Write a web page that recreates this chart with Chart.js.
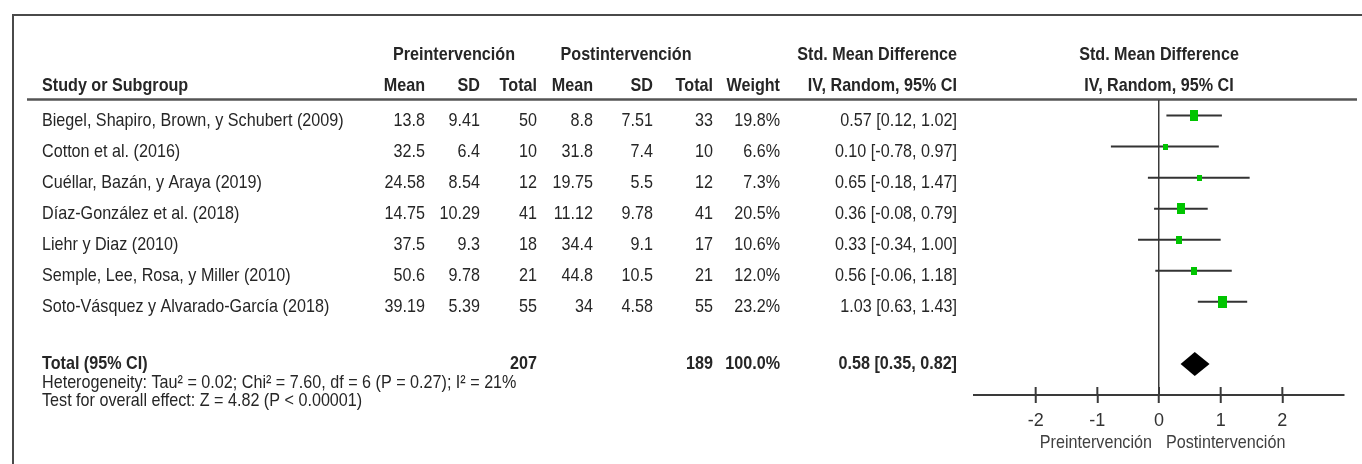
<!DOCTYPE html>
<html>
<head>
<meta charset="utf-8">
<script src="https://cdn.jsdelivr.net/npm/chart.js@4.4.1/dist/chart.umd.min.js"></script>
<style>
  html, body { margin: 0; padding: 0; background: #fff; overflow: hidden; }
  #wrap { position: relative; width: 1362px; height: 464px; }
</style>
</head>
<body>
<div id="wrap"><canvas id="forest" width="1362" height="464"></canvas></div>
<script>
// Study table
const studies = [
  'Biegel, Shapiro, Brown, y Schubert (2009)',
  'Cotton et al. (2016)',
  'Cuéllar, Bazán, y Araya (2019)',
  'Díaz-González et al. (2018)',
  'Liehr y Diaz (2010)',
  'Semple, Lee, Rosa, y Miller (2010)',
  'Soto-Vásquez y Alvarado-García (2018)'
];
const preMean   = [13.8, 32.5, 24.58, 14.75, 37.5, 50.6, 39.19];
const preSD     = [9.41, 6.4, 8.54, 10.29, 9.3, 9.78, 5.39];
const preTotal  = [50, 10, 12, 41, 18, 21, 55];
const postMean  = [8.8, 31.8, 19.75, 11.12, 34.4, 44.8, 34];
const postSD    = [7.51, 7.4, 5.5, 9.78, 9.1, 10.5, 4.58];
const postTotal = [33, 10, 12, 41, 17, 21, 55];
const weights   = [19.8, 6.6, 7.3, 20.5, 10.6, 12.0, 23.2];
const smd       = [0.57, 0.10, 0.65, 0.36, 0.33, 0.56, 1.03];
const ciLow     = [0.12, -0.78, -0.18, -0.08, -0.34, -0.06, 0.63];
const ciHigh    = [1.02, 0.97, 1.47, 0.79, 1.00, 1.18, 1.43];

// Pooled result
const totalPre = 207;
const totalPost = 189;
const totalWeight = 100.0;
const pooledSmd = 0.58;
const pooledLow = 0.35;
const pooledHigh = 0.82;
const totalRow = 8;

const xTicks = [-2, -1, 0, 1, 2];
const heterogeneityText = 'Heterogeneity: Tau² = 0.02; Chi² = 7.60, df = 6 (P = 0.27); I² = 21%';
const overallText = 'Test for overall effect: Z = 4.82 (P < 0.00001)';
const axisLeftLabel = 'Preintervención';
const axisRightLabel = 'Postintervención';

// ---- drawing helpers ----
const FONT = '"Liberation Sans", Arial, sans-serif';
const SQUEEZE = 0.85;
const TEXT = '#262626';

function put(ctx, str, x, y, align, bold, color) {
  ctx.font = (bold ? 'bold ' : '') + '19px ' + FONT;
  ctx.textAlign = align;
  ctx.textBaseline = 'middle';
  ctx.fillStyle = color || TEXT;
  const w = ctx.measureText(str).width;
  ctx.fillText(str, x, y, w * SQUEEZE);
}

const fmt = v => String(v);
const f2 = v => v.toFixed(2);
const ciText = (m, lo, hi) => f2(m) + ' [' + f2(lo) + ', ' + f2(hi) + ']';

// weight-scaled marker boxes
function box(w) {
  const k = Math.sqrt(w / 23.2);
  const bw = Math.max(3, Math.round(8.5 * k));
  const bh = Math.max(4, Math.round(11.5 * k));
  const c = document.createElement('canvas');
  c.width = bw; c.height = bh;
  const g = c.getContext('2d');
  g.fillStyle = '#00c400';
  g.fillRect(0, 0, bw, bh);
  return c;
}
const boxes = weights.map(box);

// column anchors (right edges of numeric columns)
const COL = { preMean: 425, preSD: 480, preN: 537, postMean: 593, postSD: 653, postN: 713, weight: 780, ci: 957 };

const tablePlugin = {
  id: 'table',
  beforeDraw(chart) {
    const ctx = chart.ctx;
    ctx.save();
    ctx.fillStyle = '#fff';
    ctx.fillRect(0, 0, chart.width, chart.height);
    // outer frame
    ctx.strokeStyle = '#4a4a4a';
    ctx.lineWidth = 2;
    ctx.beginPath();
    ctx.moveTo(13, 464); ctx.lineTo(13, 15); ctx.lineTo(1362, 15);
    ctx.stroke();
    // header rule
    ctx.strokeStyle = '#555';
    ctx.lineWidth = 2.5;
    ctx.beginPath();
    ctx.moveTo(27, 99.5); ctx.lineTo(1357, 99.5);
    ctx.stroke();
    ctx.restore();
  },
  afterDraw(chart) {
    const ctx = chart.ctx;
    const ys = chart.scales.y;
    const xs = chart.scales.x;
    const zero = xs.getPixelForValue(0);
    ctx.save();

    // headers
    const h1 = 55, h2 = 86;
    put(ctx, 'Preintervención', 454, h1, 'center', true);
    put(ctx, 'Postintervención', 626, h1, 'center', true);
    put(ctx, 'Std. Mean Difference', COL.ci, h1, 'right', true);
    put(ctx, 'Std. Mean Difference', zero, h1, 'center', true);
    put(ctx, 'Study or Subgroup', 42, h2, 'left', true);
    put(ctx, 'Mean', COL.preMean, h2, 'right', true);
    put(ctx, 'SD', COL.preSD, h2, 'right', true);
    put(ctx, 'Total', COL.preN, h2, 'right', true);
    put(ctx, 'Mean', COL.postMean, h2, 'right', true);
    put(ctx, 'SD', COL.postSD, h2, 'right', true);
    put(ctx, 'Total', COL.postN, h2, 'right', true);
    put(ctx, 'Weight', COL.weight, h2, 'right', true);
    put(ctx, 'IV, Random, 95% CI', COL.ci, h2, 'right', true);
    put(ctx, 'IV, Random, 95% CI', zero, h2, 'center', true);

    // study rows
    studies.forEach((name, i) => {
      const y = ys.getPixelForValue(i) + 5;
      put(ctx, name, 42, y, 'left', false);
      put(ctx, fmt(preMean[i]), COL.preMean, y, 'right');
      put(ctx, fmt(preSD[i]), COL.preSD, y, 'right');
      put(ctx, fmt(preTotal[i]), COL.preN, y, 'right');
      put(ctx, fmt(postMean[i]), COL.postMean, y, 'right');
      put(ctx, fmt(postSD[i]), COL.postSD, y, 'right');
      put(ctx, fmt(postTotal[i]), COL.postN, y, 'right');
      put(ctx, weights[i].toFixed(1) + '%', COL.weight, y, 'right');
      put(ctx, ciText(smd[i], ciLow[i], ciHigh[i]), COL.ci, y, 'right');
    });

    // total row
    const ty = ys.getPixelForValue(totalRow);
    put(ctx, 'Total (95% CI)', 42, ty, 'left', true);
    put(ctx, fmt(totalPre), COL.preN, ty, 'right', true);
    put(ctx, fmt(totalPost), COL.postN, ty, 'right', true);
    put(ctx, totalWeight.toFixed(1) + '%', COL.weight, ty, 'right', true);
    put(ctx, ciText(pooledSmd, pooledLow, pooledHigh), COL.ci, ty, 'right', true);

    put(ctx, heterogeneityText, 42, ty + 19, 'left', false);
    put(ctx, overallText, 42, ty + 37, 'left', false);

    // favours labels under the axis
    put(ctx, axisLeftLabel, zero - 7, 443, 'right', false, '#404040');
    put(ctx, axisRightLabel, zero + 7, 443, 'left', false, '#404040');
    ctx.restore();
  },
  afterDatasetsDraw(chart) {
    const ctx = chart.ctx;
    const xs = chart.scales.x;
    const ys = chart.scales.y;
    ctx.save();
    // pooled diamond
    const yc = ys.getPixelForValue(totalRow);
    const half = 12;
    ctx.fillStyle = '#000';
    ctx.beginPath();
    ctx.moveTo(xs.getPixelForValue(pooledLow), yc);
    ctx.lineTo(xs.getPixelForValue(pooledSmd), yc - half);
    ctx.lineTo(xs.getPixelForValue(pooledHigh), yc);
    ctx.lineTo(xs.getPixelForValue(pooledSmd), yc + half);
    ctx.closePath();
    ctx.fill();
    // upper half of the axis tick marks
    const ay = chart.chartArea.bottom;
    ctx.strokeStyle = '#3a3a3a';
    ctx.lineWidth = 2;
    xTicks.forEach(v => {
      const px = xs.getPixelForValue(v);
      ctx.beginPath();
      ctx.moveTo(px, ay - 8);
      ctx.lineTo(px, ay);
      ctx.stroke();
    });
    ctx.restore();
  }
};

const ciSets = studies.map((s, i) => ({
  type: 'line',
  data: [{ x: ciLow[i], y: i }, { x: ciHigh[i], y: i }],
  borderColor: '#333',
  borderWidth: 2,
  pointRadius: 0,
  showLine: true,
  order: 2
}));

const pointSet = {
  type: 'scatter',
  data: smd.map((v, i) => ({ x: v, y: i })),
  pointStyle: boxes,
  pointRadius: 6,
  order: 1
};

new Chart(document.getElementById('forest'), {
  type: 'scatter',
  data: { datasets: [...ciSets, pointSet] },
  options: {
    responsive: false,
    animation: false,
    events: [],
    layout: { padding: { left: 974, right: 18, top: 100, bottom: 0 } },
    plugins: { legend: { display: false }, tooltip: { enabled: false } },
    scales: {
      x: {
        type: 'linear',
        min: -3,
        max: 3,
        afterBuildTicks: s => { s.ticks = xTicks.map(v => ({ value: v })); },
        afterFit: s => { s.height = 69; },
        grid: {
          drawOnChartArea: true,
          color: c => (c.tick && c.tick.value === 0) ? '#3a3a3a' : 'rgba(0,0,0,0)',
          lineWidth: 1.5,
          tickLength: 8,
          tickColor: '#3a3a3a',
          tickWidth: 2
        },
        border: { display: true, color: '#3a3a3a', width: 2 },
        ticks: { color: '#333', font: { family: 'Liberation Sans', size: 18 }, padding: 7 }
      },
      y: { type: 'linear', reverse: true, min: -0.5, max: 9, display: false }
    }
  },
  plugins: [tablePlugin]
});
</script>
</body>
</html>
